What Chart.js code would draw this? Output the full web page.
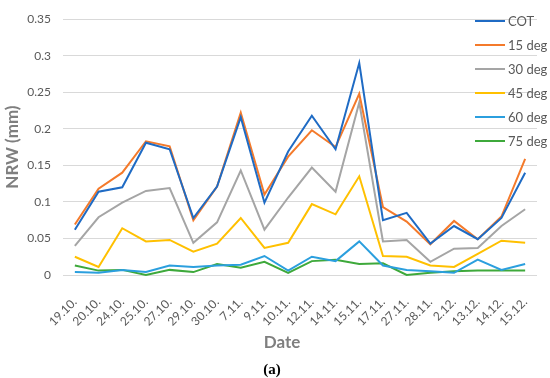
<!DOCTYPE html>
<html>
<head>
<meta charset="utf-8">
<script src="https://cdn.jsdelivr.net/npm/chart.js@4/dist/chart.umd.min.js"></script>
<style>
  html, body { margin: 0; padding: 0; background: #fff; }
  #wrap { position: relative; width: 550px; height: 378px; overflow: hidden; font-family: Lato, sans-serif; }
  #nrw-chart { position: absolute; left: 0; top: 0; }
  #legend { position: absolute; left: 475px; top: 9px; }
  .legend-item { display: flex; align-items: center; height: 24px; font-size: 13px; color: #595959; }
  .legend-line { width: 30px; height: 2px; margin-right: 3px; }
  #x-title { position: absolute; left: 232px; width: 100px; top: 331px; text-align: center; font-weight: bold; font-size: 17px; color: #7f7f7f; }
  #caption { position: absolute; left: 242px; width: 60px; top: 361px; text-align: center; font-family: "Liberation Serif", serif; font-weight: bold; font-size: 15px; color: #000; }
</style>
</head>
<body>
<div id="wrap">
  <canvas id="nrw-chart" width="550" height="378"></canvas>
  <div id="legend"></div>
  <div id="x-title">Date</div>
  <div id="caption">(a)</div>
</div>
<script>
  const dates = ['19.10.', '20.10.', '24.10.', '25.10.', '27.10.', '29.10.', '30.10.', '7.11.', '9.11.', '10.11.',
    '12.11.', '14.11.', '15.11.', '17.11.', '27.11.', '28.11.', '2.12.', '13.12.', '14.12.', '15.12.'];

  const cot = [0.062, 0.114, 0.120, 0.181, 0.172, 0.078, 0.121, 0.216, 0.099, 0.169,
    0.218, 0.172, 0.290, 0.075, 0.085, 0.043, 0.067, 0.049, 0.078, 0.140];
  const deg15 = [0.069, 0.118, 0.140, 0.183, 0.176, 0.075, 0.121, 0.222, 0.110, 0.162,
    0.198, 0.175, 0.248, 0.093, 0.073, 0.042, 0.074, 0.049, 0.080, 0.159];
  const deg30 = [0.040, 0.079, 0.099, 0.115, 0.119, 0.044, 0.072, 0.143, 0.062, 0.106,
    0.147, 0.114, 0.236, 0.046, 0.048, 0.018, 0.036, 0.037, 0.067, 0.090];
  const deg45 = [0.025, 0.011, 0.064, 0.046, 0.048, 0.032, 0.043, 0.078, 0.037, 0.044,
    0.097, 0.083, 0.135, 0.026, 0.025, 0.013, 0.011, 0.029, 0.047, 0.044];
  const deg60 = [0.004, 0.003, 0.007, 0.004, 0.013, 0.011, 0.013, 0.014, 0.026, 0.006,
    0.025, 0.019, 0.046, 0.013, 0.007, 0.005, 0.003, 0.021, 0.007, 0.015];
  const deg75 = [0.013, 0.006, 0.007, 0.000, 0.007, 0.004, 0.015, 0.010, 0.018, 0.003,
    0.019, 0.021, 0.015, 0.016, 0.000, 0.003, 0.005, 0.006, 0.006, 0.006];

  const seriesNames = ['COT', '15 deg', '30 deg', '45 deg', '60 deg', '75 deg'];
  const seriesColors = ['#1f6bc4', '#f47a2b', '#a5a5a5', '#ffc000', '#2b9fde', '#3ea93b'];
  const yTickLabels = ['0', '0.05', '0.1', '0.15', '0.2', '0.25', '0.3', '0.35'];

  const tickColor = '#595959';
  const titleColor = '#7f7f7f';

  function buildDatasets() {
    return [cot, deg15, deg30, deg45, deg60, deg75].map((values, idx) => ({
      label: seriesNames[idx],
      data: values,
      borderColor: seriesColors[idx],
      backgroundColor: seriesColors[idx],
      borderWidth: 2,
      pointRadius: 0,
      tension: 0,
      clip: false
    }));
  }

  function drawLegend(chart) {
    const $legend = document.getElementById('legend');
    chart.data.datasets.forEach(ds => {
      const item = document.createElement('div');
      item.className = 'legend-item';
      item.innerHTML = `<span class="legend-line" style="background:${ds.borderColor}"></span>${ds.label}`;
      $legend.appendChild(item);
    });
  }

  const chart = new Chart(document.getElementById('nrw-chart').getContext('2d'), {
    type: 'line',
    data: {
      labels: dates,
      datasets: buildDatasets()
    },
    options: {
      responsive: false,
      animation: false,
      layout: {
        padding: { top: 13, right: 13, bottom: 0, left: 0 }
      },
      scales: {
        x: {
          offset: true,
          grid: { display: false },
          border: { display: false },
          ticks: {
            minRotation: 45,
            maxRotation: 45,
            autoSkip: false,
            padding: 12,
            color: tickColor,
            font: { family: 'Lato', size: 12 }
          },
          afterFit: scale => { scale.height = 103; }
        },
        y: {
          min: 0,
          max: 0.35,
          grid: { color: '#d9d9d9', lineWidth: 1, drawTicks: false },
          border: { display: false },
          ticks: {
            stepSize: 0.05,
            padding: 12,
            color: tickColor,
            font: { family: 'Lato', size: 12 },
            callback: (v, i) => yTickLabels[i]
          },
          title: {
            display: true,
            text: 'NRW (mm)',
            color: titleColor,
            font: { family: 'Lato', size: 17, weight: 'bold' },
            padding: { top: 2, bottom: 0 }
          },
          afterFit: scale => { scale.width = 63; }
        }
      },
      plugins: {
        legend: { display: false },
        tooltip: { enabled: false }
      }
    }
  });

  drawLegend(chart);
</script>
</body>
</html>
